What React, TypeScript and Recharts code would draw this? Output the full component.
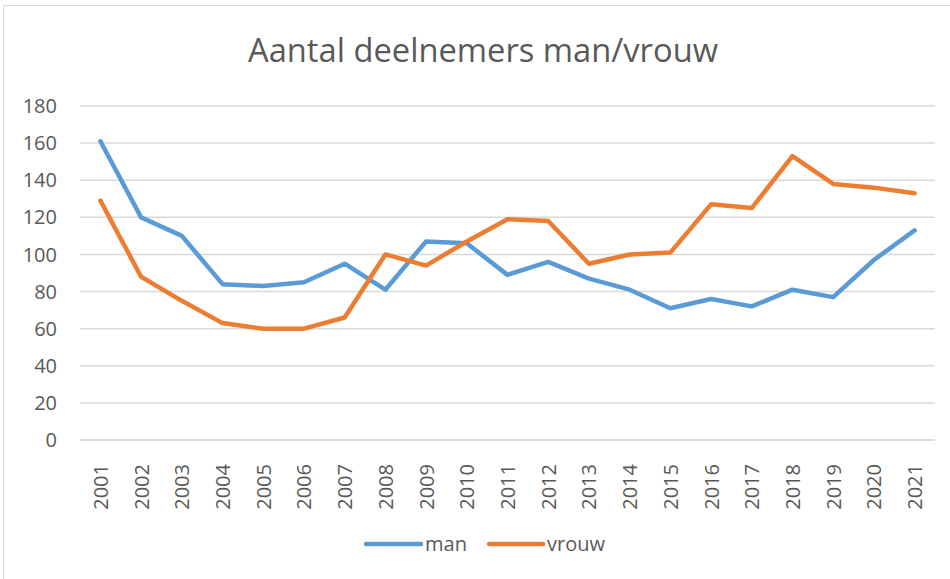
import React from 'react';
import { LineChart, Line, XAxis, YAxis, CartesianGrid, Legend } from 'recharts';

const years = ['2001','2002','2003','2004','2005','2006','2007','2008','2009','2010','2011','2012','2013','2014','2015','2016','2017','2018','2019','2020','2021'];
const man = [161,120,110,84,83,85,95,81,107,106,89,96,87,81,71,76,72,81,77,97,113];
const vrouw = [129,88,75,63,60,60,66,100,94,107,119,118,95,100,101,127,125,153,138,136,133];
const yTicks = [0,20,40,60,80,100,120,140,160,180];
const title = 'Aantal deelnemers man/vrouw';

const data = years.map((y, i) => ({ year: y, man: man[i], vrouw: vrouw[i] }));

const FONT = '"Open Sans", sans-serif';
const TEXT = '#595959';
const BLUE = '#5B9BD5';
const ORANGE = '#ED7D31';

const XTick = (props: any) => {
  const { x, y, payload } = props;
  return (
    <text
      transform={`translate(${x}, ${y + 16}) rotate(-90)`}
      textAnchor="end"
      dominantBaseline="central"
      fontSize={20}
      fontFamily={FONT}
      fill={TEXT}
    >
      {payload.value}
    </text>
  );
};

const renderLegend = () => (
  <svg width={950} height={40} style={{ display: 'block' }}>
    <line x1={366} y1={20} x2={421} y2={20} stroke={BLUE} strokeWidth={4.5} strokeLinecap="round" />
    <text x={425} y={27} fontSize={20} fontFamily={FONT} fill={TEXT}>man</text>
    <line x1={489} y1={20} x2={543} y2={20} stroke={ORANGE} strokeWidth={4.5} strokeLinecap="round" />
    <text x={547} y={27} fontSize={20} fontFamily={FONT} fill={TEXT}>vrouw</text>
  </svg>
);

export default function App() {
  return (
    <div style={{ position: 'absolute', left: 0, top: 0, width: 950, height: 579, background: '#fff' }}>
      <div style={{ position: 'absolute', left: 3, top: 5, width: 950, height: 580, border: '1.5px solid #d9d9d9', boxSizing: 'border-box' }} />
      <div style={{ position: 'absolute', left: 0, top: 0 }}>
        <LineChart width={950} height={579} data={data} margin={{ top: 106, right: 15, left: 0, bottom: 29 }}>
          <text x={483} y={62} textAnchor="middle" fontSize={32.7} fontFamily={FONT} fill={TEXT}>{title}</text>
          <CartesianGrid vertical={false} stroke="#d9d9d9" strokeWidth={1.5} />
          <XAxis
            dataKey="year"
            interval={0}
            height={70}
            padding={{ left: 20.4, right: 20.4 }}
            tickLine={false}
            axisLine={{ stroke: '#d9d9d9', strokeWidth: 1.5 }}
            tick={<XTick />}
          />
          <YAxis
            domain={[0, 180]}
            ticks={yTicks}
            width={80}
            axisLine={false}
            tickLine={false}
            tickSize={0}
            tickMargin={23}
            tick={{ fontSize: 20, fontFamily: FONT, fill: TEXT }}
          />
          <Legend
            verticalAlign="bottom"
            content={renderLegend}
            wrapperStyle={{ position: 'absolute', left: 0, top: 524, width: 950, height: 40 }}
          />
          <Line type="linear" dataKey="man" stroke={BLUE} strokeWidth={4.5} dot={false} strokeLinecap="round" strokeLinejoin="round" isAnimationActive={false} />
          <Line type="linear" dataKey="vrouw" stroke={ORANGE} strokeWidth={4.5} dot={false} strokeLinecap="round" strokeLinejoin="round" isAnimationActive={false} />
        </LineChart>
      </div>
    </div>
  );
}
